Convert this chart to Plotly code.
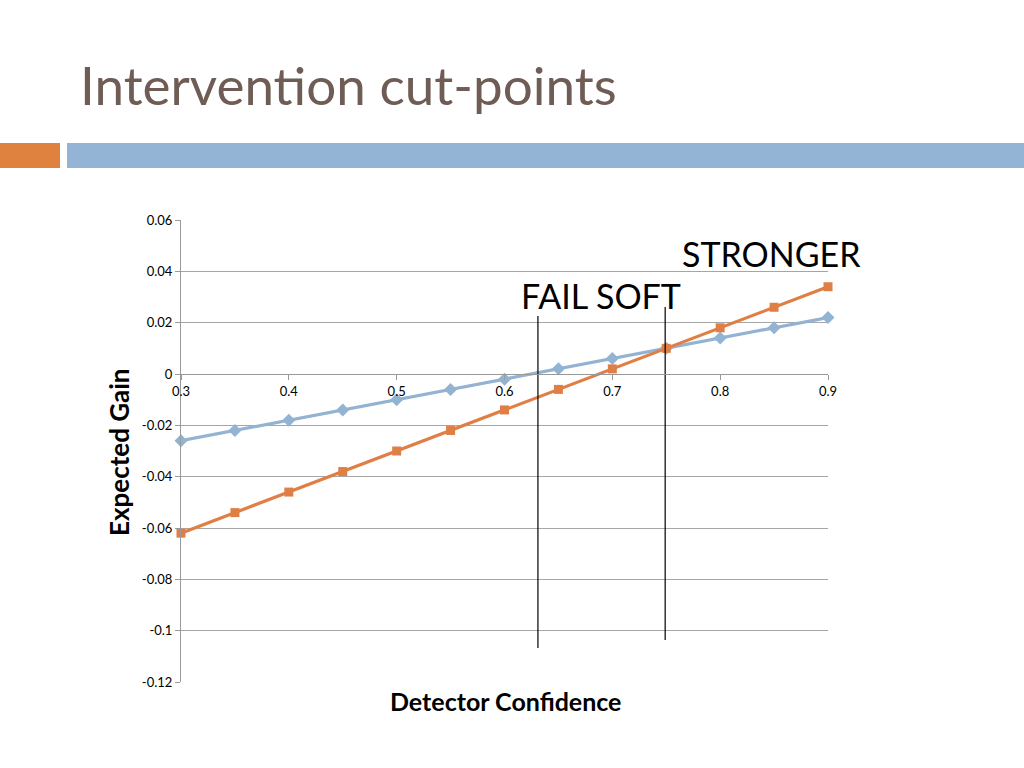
import plotly.graph_objects as go

# ---- data ----
confidence = [0.3, 0.35, 0.4, 0.45, 0.5, 0.55, 0.6, 0.65, 0.7, 0.75, 0.8, 0.85, 0.9]
gain_blue = [-0.026, -0.022, -0.018, -0.014, -0.010, -0.006, -0.002, 0.002, 0.006, 0.010, 0.014, 0.018, 0.022]
gain_orange = [-0.062, -0.054, -0.046, -0.038, -0.030, -0.022, -0.014, -0.006, 0.002, 0.010, 0.018, 0.026, 0.034]
cut_x = [0.631, 0.749]
cut_top = [0.0226, 0.0261]
cut_bottom = [-0.1068, -0.1036]
cut_labels = ["FAIL SOFT", "STRONGER"]
cut_label_x = [0.6895, 0.848]
cut_label_y = [0.0304, 0.0468]
y_ticks = [0.06, 0.04, 0.02, 0, -0.02, -0.04, -0.06, -0.08, -0.1, -0.12]
y_ticktext = ["0.06", "0.04", "0.02", "0", "-0.02", "-0.04", "-0.06", "-0.08", "-0.1", "-0.12"]
x_ticks = [0.3, 0.4, 0.5, 0.6, 0.7, 0.8, 0.9]
x_ticktext = ["0.3", "0.4", "0.5", "0.6", "0.7", "0.8", "0.9"]
title_text = "Intervention cut-points"
x_title = "Detector Confidence"
y_title = "Expected Gain"

BLUE = "#93b3d3"
ORANGE = "#e07f45"
W, H = 1024, 768
L, R, T, B = 181, 828, 220, 682


def px(p):
    return (p - L) / (R - L)


def py(p):
    return (B - p) / (B - T)


fig = go.Figure()
fig.add_trace(go.Scatter(x=confidence, y=gain_blue, mode="lines+markers",
                         line=dict(color=BLUE, width=3.2),
                         marker=dict(symbol="diamond", size=10, color=BLUE),
                         cliponaxis=False, showlegend=False))
fig.add_trace(go.Scatter(x=confidence, y=gain_orange, mode="lines+markers",
                         line=dict(color=ORANGE, width=3.2),
                         marker=dict(symbol="square", size=9, color=ORANGE),
                         cliponaxis=False, showlegend=False))
for cx, ct, cb in zip(cut_x, cut_top, cut_bottom):
    fig.add_trace(go.Scatter(x=[cx, cx], y=[ct, cb], mode="lines",
                             line=dict(color="black", width=1.2),
                             showlegend=False, hoverinfo="skip"))

for lab, lx, ly in zip(cut_labels, cut_label_x, cut_label_y):
    fig.add_annotation(x=lx, y=ly, text=lab, showarrow=False,
                       xanchor="center", yanchor="middle",
                       font=dict(family="Lato", size=34, color="black"))

# header bars
fig.add_shape(type="rect", xref="paper", yref="paper",
              x0=px(-5), x1=px(60), y0=py(168), y1=py(143),
              fillcolor="#e0823f", line_width=0, layer="above")
fig.add_shape(type="rect", xref="paper", yref="paper",
              x0=px(67), x1=px(1040), y0=py(168), y1=py(143),
              fillcolor="#93b4d4", line_width=0, layer="above")

fig.add_annotation(xref="paper", yref="paper", x=px(78), y=py(84),
                   xanchor="left", yanchor="middle", text=title_text, showarrow=False,
                   font=dict(family="Lato", size=53, color="#6f5d55"))
fig.add_annotation(xref="paper", yref="paper", x=px(505), y=py(701),
                   xanchor="center", yanchor="middle",
                   text="<b>" + x_title + "</b>", showarrow=False,
                   font=dict(family="Lato", size=25, color="black"))
fig.add_annotation(xref="paper", yref="paper", x=px(119), y=py(452), textangle=-90,
                   xanchor="center", yanchor="middle",
                   text="<b>" + y_title + "</b>", showarrow=False,
                   font=dict(family="Lato", size=26, color="black"))

fig.update_layout(
    width=W, height=H,
    margin=dict(l=L, r=W - R, t=T, b=H - B),
    paper_bgcolor="white", plot_bgcolor="white",
    xaxis=dict(range=[0.3, 0.9], anchor="free", position=0.12 / 0.18,
               tickvals=x_ticks, ticktext=x_ticktext, ticks="outside", ticklen=5,
               tickcolor="#999999", showline=True, linecolor="#999999", linewidth=1,
               showgrid=False, zeroline=False,
               tickfont=dict(family="Lato", size=13, color="black")),
    yaxis=dict(range=[-0.12, 0.06], tickvals=y_ticks, ticktext=y_ticktext,
               ticks="outside", ticklen=5, tickcolor="#999999",
               showline=True, linecolor="#999999", linewidth=1,
               showgrid=True, gridcolor="#a6a6a6", gridwidth=1, zeroline=False,
               tickfont=dict(family="Lato", size=13, color="black")),
)

fig.write_html("out.html", config={"displayModeBar": False},
               post_script="document.body.style.margin='0';")
